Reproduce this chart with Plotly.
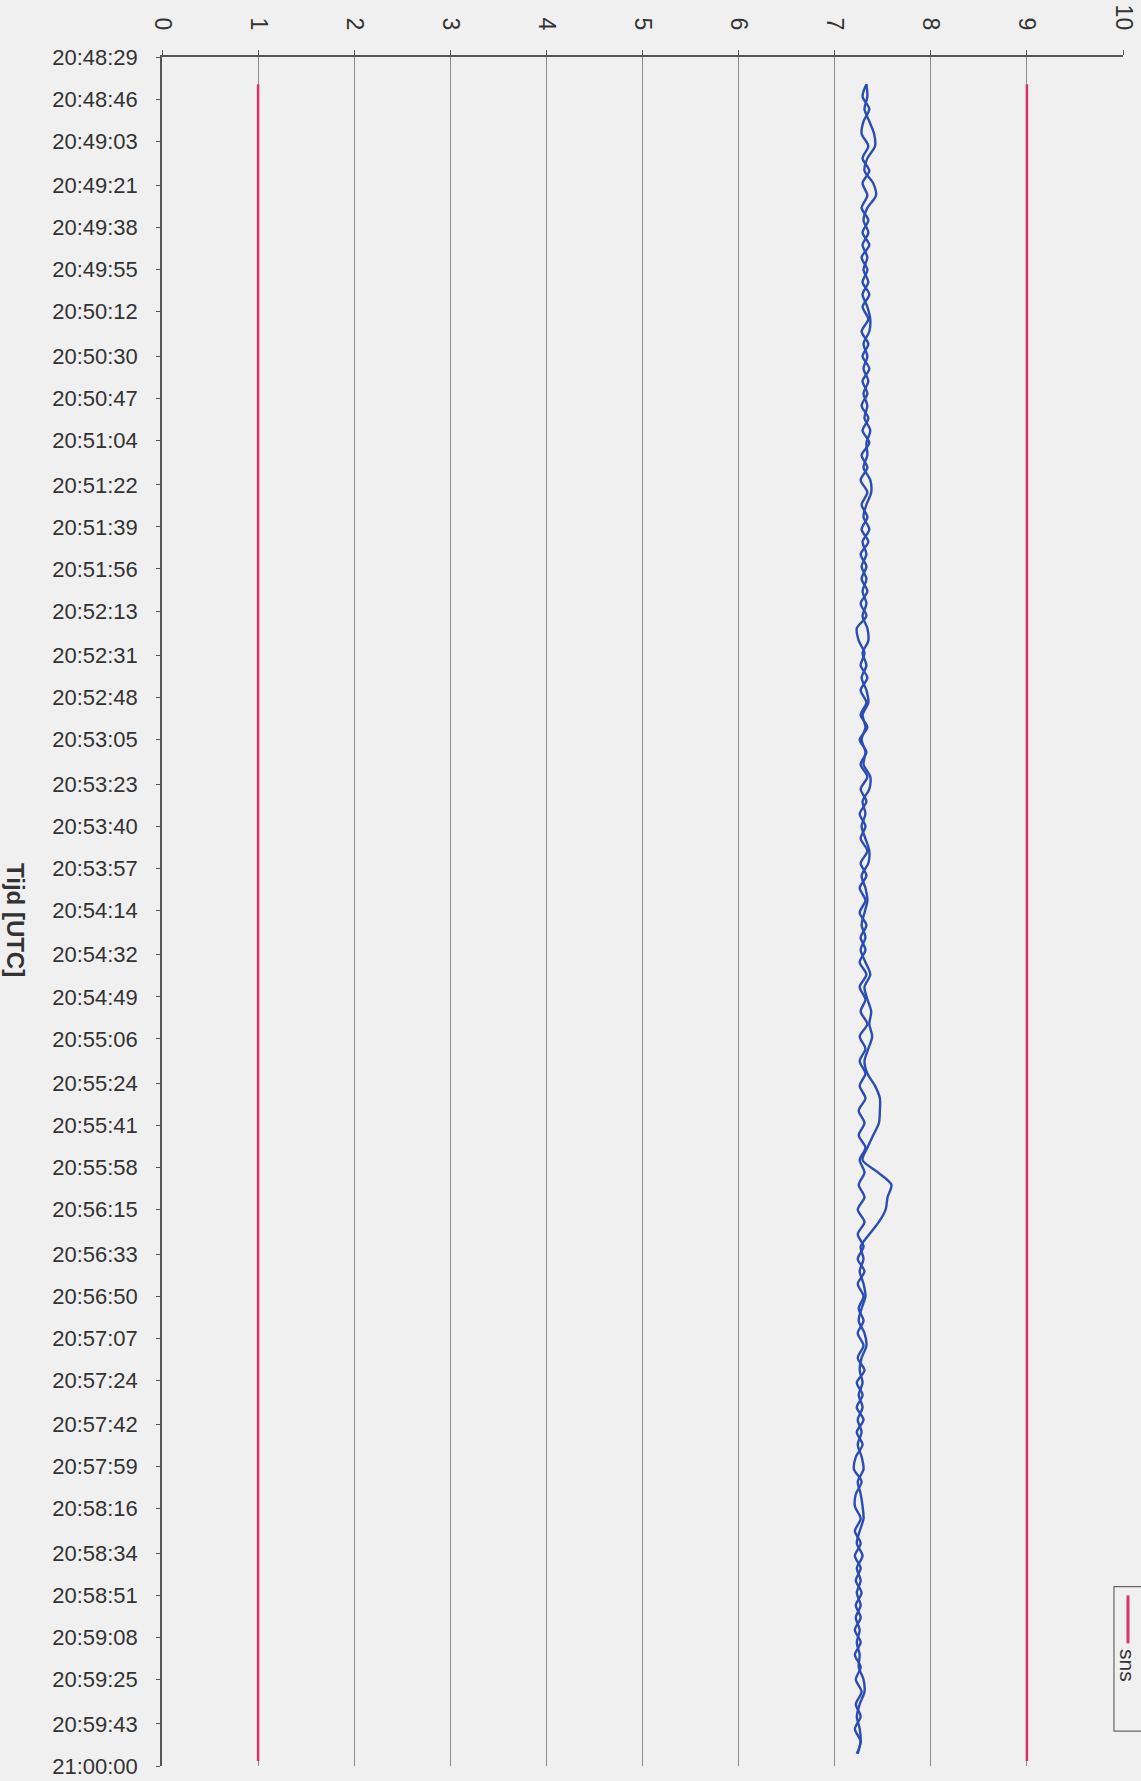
import pandas as pd
import plotly.graph_objects as go

# Time axis labels (category labels)
tick_labels = [
    "20:48:29", "20:48:46", "20:49:03", "20:49:21", "20:49:38", "20:49:55",
    "20:50:12", "20:50:30", "20:50:47", "20:51:04", "20:51:22", "20:51:39",
    "20:51:56", "20:52:13", "20:52:31", "20:52:48", "20:53:05", "20:53:23",
    "20:53:40", "20:53:57", "20:54:14", "20:54:32", "20:54:49", "20:55:06",
    "20:55:24", "20:55:41", "20:55:58", "20:56:15", "20:56:33", "20:56:50",
    "20:57:07", "20:57:24", "20:57:42", "20:57:59", "20:58:16", "20:58:34",
    "20:58:51", "20:59:08", "20:59:25", "20:59:43", "21:00:00",
]
value_ticks = [0, 1, 2, 3, 4, 5, 6, 7, 8, 9, 10]

# sample clock of the measurement (every 5 s)
meas_start = "20:48:40"
meas_step_s = 5

meting_1 = [
    7.33, 7.29, 7.36, 7.30, 7.28, 7.35, 7.29, 7.36, 7.29, 7.34,
    7.28, 7.35, 7.29, 7.36, 7.28, 7.34, 7.29, 7.36, 7.29, 7.35,
    7.28, 7.35, 7.29, 7.36, 7.29, 7.34, 7.28, 7.35, 7.29, 7.36,
    7.28, 7.34, 7.27, 7.34, 7.28, 7.34, 7.28, 7.35, 7.27, 7.33,
    7.28, 7.34, 7.27, 7.33, 7.23, 7.25, 7.31, 7.27, 7.34, 7.27,
    7.33, 7.27, 7.34, 7.26, 7.33, 7.27, 7.34, 7.27, 7.33, 7.26,
    7.32, 7.27, 7.34, 7.27, 7.33, 7.26, 7.32, 7.26, 7.33, 7.27,
    7.32, 7.26, 7.33, 7.26, 7.32, 7.27, 7.34, 7.26, 7.32, 7.26,
    7.32, 7.26, 7.32, 7.25, 7.31, 7.25, 7.32, 7.26, 7.31, 7.25,
    7.31, 7.24, 7.31, 7.24, 7.30, 7.24, 7.31, 7.24, 7.30, 7.25,
    7.30, 7.24, 7.30, 7.24, 7.31, 7.23, 7.29, 7.23, 7.30, 7.23,
    7.29, 7.22, 7.20, 7.28, 7.22, 7.21, 7.27, 7.21, 7.27, 7.21,
    7.27, 7.22, 7.28, 7.22, 7.27, 7.21, 7.27, 7.21, 7.27, 7.22,
    7.28, 7.22, 7.27, 7.21, 7.27, 7.23,
]
meting_2 = [
    7.33, 7.34, 7.31, 7.36, 7.41, 7.42, 7.34, 7.31, 7.40, 7.43,
    7.34, 7.30, 7.35, 7.29, 7.34, 7.30, 7.35, 7.29, 7.34, 7.37,
    7.36, 7.30, 7.34, 7.30, 7.35, 7.30, 7.34, 7.31, 7.37, 7.33,
    7.34, 7.30, 7.37, 7.38, 7.33, 7.30, 7.36, 7.29, 7.33, 7.28,
    7.33, 7.29, 7.33, 7.29, 7.34, 7.35, 7.29, 7.33, 7.28, 7.33,
    7.35, 7.29, 7.32, 7.28, 7.32, 7.30, 7.37, 7.36, 7.29, 7.32,
    7.28, 7.32, 7.36, 7.35, 7.28, 7.32, 7.34, 7.31, 7.28, 7.32,
    7.27, 7.32, 7.37, 7.31, 7.34, 7.38, 7.36, 7.39, 7.35, 7.31,
    7.34, 7.42, 7.47, 7.47, 7.46, 7.40, 7.34, 7.29, 7.45, 7.59,
    7.55, 7.53, 7.46, 7.36, 7.27, 7.30, 7.26, 7.30, 7.32, 7.28,
    7.25, 7.31, 7.33, 7.28, 7.26, 7.29, 7.25, 7.29, 7.24, 7.28,
    7.24, 7.28, 7.30, 7.24, 7.27, 7.29, 7.30, 7.26, 7.23, 7.29,
    7.23, 7.27, 7.23, 7.27, 7.22, 7.26, 7.23, 7.26, 7.25, 7.30,
    7.31, 7.26, 7.23, 7.26, 7.27, 7.24,
]

# sns limits (lower / upper)
sns_times = ["20:48:40", "20:59:58"]
sns_low = [1, 1]
sns_high = [9, 9]

day = "2000-01-01 "
to_dt = lambda ts: pd.to_datetime([day + t for t in ts])

meas_times = pd.date_range(day + meas_start, periods=len(meting_1), freq=f"{meas_step_s}s")

RED = "#d8336b"
BLUE = "#2b4db3"
BG = "#f1f0f0"

fig = go.Figure()

fig.add_trace(go.Scatter(x=sns_low, y=to_dt(sns_times), mode="lines", name="sns",
                         line=dict(color=RED, width=2.5)))
fig.add_trace(go.Scatter(x=sns_high, y=to_dt(sns_times), mode="lines", name="sns",
                         line=dict(color=RED, width=2.5)))
fig.add_trace(go.Scatter(x=meting_1, y=meas_times, mode="lines", name="meting 1",
                         line=dict(color=BLUE, width=2.4, shape="spline", smoothing=0.8)))
fig.add_trace(go.Scatter(x=meting_2, y=meas_times, mode="lines", name="meting 2",
                         line=dict(color=BLUE, width=2.4, shape="spline", smoothing=0.8)))

tick_dt = to_dt(tick_labels)

fig.update_layout(
    width=1141, height=1781,
    margin=dict(l=162, r=18, t=57, b=15),
    paper_bgcolor=BG, plot_bgcolor=BG,
    showlegend=False,
    font=dict(family="Arial, Liberation Sans, sans-serif", color="#333333"),
)

# value axis on top, labels turned like the scanned page
fig.update_xaxes(
    side="top", range=[0, 10], automargin=False,
    tickvals=value_ticks, ticktext=[str(v) for v in value_ticks],
    tickangle=90, tickfont=dict(size=23, color="#333333"),
    ticks="outside", ticklen=5, tickcolor="#555555",
    ticklabelstandoff=12, ticklabeloverflow="allow",
    showgrid=True, gridcolor="#8c8c8c", gridwidth=1.3,
    showline=True, linecolor="#555555", linewidth=1.5,
    zeroline=False,
)

# time axis running downwards
fig.update_yaxes(
    type="date", automargin=False,
    range=[tick_dt[-1], tick_dt[0]],
    tickvals=tick_dt, ticktext=tick_labels,
    tickfont=dict(size=22, color="#333333"),
    ticks="outside", ticklen=4, tickcolor="#555555",
    ticklabelstandoff=14, ticklabeloverflow="allow",
    showgrid=False,
    showline=True, linecolor="#555555", linewidth=1.5,
    zeroline=False,
)

# axis title, rotated
fig.add_annotation(
    text="<b>Tijd [UTC]</b>", textangle=90,
    xref="paper", yref="paper", x=-0.168, y=0.495,
    xanchor="left", yanchor="middle", showarrow=False,
    font=dict(size=24, color="#333333"),
)

# legend box (runs off the right edge of the page)
fig.add_shape(type="rect", xref="paper", yref="paper",
              x0=0.9906, x1=1.04, y0=0.0204, y1=0.1050,
              line=dict(color="#666666", width=1.2), fillcolor=BG, layer="above")
fig.add_shape(type="line", xref="paper", yref="paper",
              x0=1.0052, x1=1.0052, y0=0.0718, y1=0.0998,
              line=dict(color=RED, width=3), layer="above")
fig.add_annotation(
    text="sns", textangle=90,
    xref="paper", yref="paper", x=1.0052, y=0.0585,
    xanchor="center", yanchor="middle", showarrow=False,
    font=dict(size=21, color="#333333"),
)

# drop the browser's default page margin so the figure fills the window
fig.write_html(
    "out.html",
    config={"displayModeBar": False},
    post_script="document.body.style.margin='0';document.body.style.overflow='hidden';",
)
